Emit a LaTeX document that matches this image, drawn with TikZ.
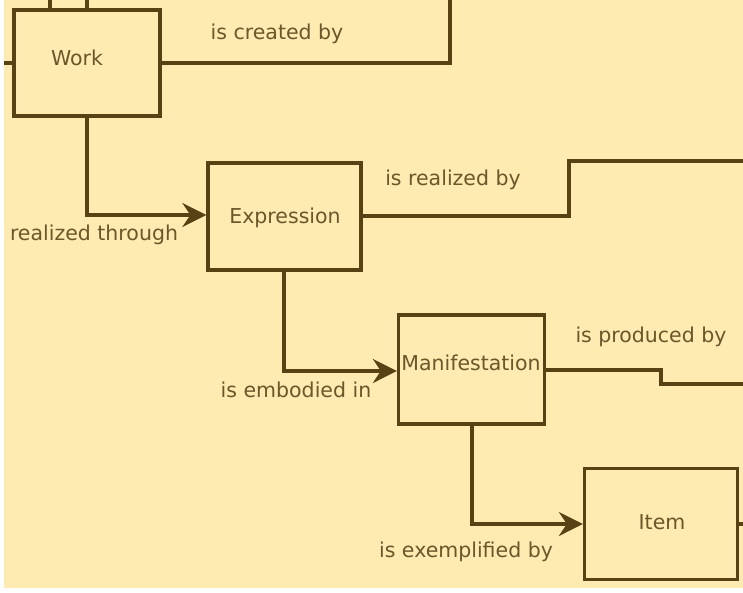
\documentclass[tikz,border=0pt]{standalone}
\usepackage{fontspec}
\setmainfont{DejaVu Sans}
\usetikzlibrary{arrows.meta}
\definecolor{paper}{HTML}{FDEBB2}
\definecolor{ink}{HTML}{584214}
\definecolor{txt}{HTML}{6A572A}
\begin{document}
\begin{tikzpicture}[x=1pt,y=-1pt,
  entity/.style={draw=ink,line width=3.3pt,fill=paper,rectangle,inner sep=0pt},
  caption/.style={text=txt,font=\fontsize{20.5}{24}\selectfont,inner sep=0pt},
  link/.style={draw=ink,line width=3.3pt,line join=miter},
  arrowlink/.style={link,-{Stealth[length=24pt,width=24pt,inset=8pt]}}]
  % page and background
  \fill[white] (0,0) rectangle (743,592);
  \fill[paper] (4,0) rectangle (743,588);
  \useasboundingbox (0,0) rectangle (743,592);

  % entities
  \node[entity,minimum width=146pt,minimum height=106pt] (work) at (87,63) {};
  \node[entity,minimum width=153pt,minimum height=107pt] (expr) at (284.5,216.5) {};
  \node[entity,minimum width=146pt,minimum height=109pt] (mani) at (471.5,369.5) {};
  \node[entity,minimum width=153pt,minimum height=111pt] (item) at (661,524) {};

  \node[caption] (workt) at (77,58) {Work};
  \node[caption] (exprt) at (285,218) {Expression};
  \node[caption] (manit) at (471,363) {Manifestation};
  \node[caption] (itemt) at (662,522) {Item};

  % free ends of connectors
  \coordinate (wtopa) at (50,0);
  \coordinate (wtopb) at (87,0);
  \coordinate (wleft) at (4,63);
  \coordinate (creator) at (450,0);
  \coordinate (realizer) at (743,161);
  \coordinate (producer) at (743,384);
  \coordinate (holder) at (743,524);

  % connectors at the edges
  \draw[link] (wtopa) -- (wtopa |- work.north);
  \draw[link] (wtopb) -- (wtopb |- work.north);
  \draw[link] (wleft) -- (wleft -| work.west);
  \draw[link] (work.east |- 0,63) -- (450,63) -- (creator);
  \draw[link] (expr.east |- 0,216) -- (569,216) -- (569,161) -- (realizer);
  \draw[link] (mani.east |- 0,370) -- (661,370) -- (661,384) -- (producer);
  \draw[link] (item.east |- holder) -- (holder);

  % relationships down the hierarchy
  \draw[arrowlink] (work.south) |- (expr.west |- 0,215);
  \draw[arrowlink] (284,270) |- (mani.west |- 0,371);
  \draw[arrowlink] (472,424) |- (item.west |- 0,524);

  % relationship names
  \node[caption] (lcreated) at (277,34) {is created by};
  \node[caption] (lrealized) at (453,180) {is realized by};
  \node[caption] (lproduced) at (651,337) {is produced by};
  \node[caption] (lthrough) at (94,235) {realized through};
  \node[caption] (lembodied) at (296,390) {is embodied in};
  \node[caption] (lexempl) at (466,552) {is exemplified by};
\end{tikzpicture}
\end{document}
